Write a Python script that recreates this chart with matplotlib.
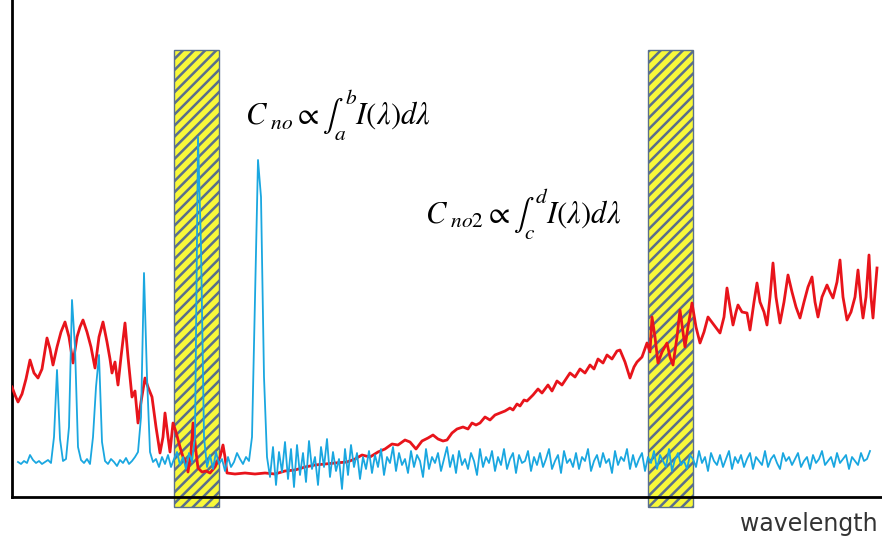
import numpy as np
import matplotlib
matplotlib.use("Agg")
from matplotlib import pyplot as plt
from matplotlib.patches import Rectangle

# Red spectrum (traced points, x = wavelength position, y = intensity)
red_x = [12, 15, 18, 22, 26, 30, 34, 38, 42, 47, 50, 53, 57, 61, 65, 69, 73, 77, 80, 83,
         87, 91, 95, 99, 103, 107, 110, 112, 115, 118, 121, 125, 128, 132, 135, 138, 141, 145, 148, 152,
         156, 160, 163, 165, 168, 170, 173, 176, 180, 183, 186, 188, 191, 193, 196, 198, 202, 206, 210, 215,
         220, 223, 225, 227, 235, 245, 255, 265, 275, 285, 295, 305, 315, 325, 335, 347, 355, 362, 370, 378,
         385, 392, 398, 405, 410, 416, 422, 428, 433, 438, 443, 447, 452, 457, 463, 468, 472, 476, 480, 485,
         490, 495, 500, 505, 510, 513, 517, 520, 524, 527, 533, 538, 542, 548, 552, 557, 562, 566, 570, 575,
         580, 585, 590, 594, 598, 603, 607, 612, 617, 620, 625, 630, 634, 637, 642, 647, 650, 652, 655, 658,
         662, 667, 670, 673, 677, 680, 683, 685, 688, 692, 696, 700, 704, 708, 714, 720, 724, 727, 730, 733,
         736, 738, 742, 747, 750, 754, 757, 760, 764, 767, 770, 773, 776, 780, 784, 788, 792, 796, 800, 804,
         808, 812, 815, 818, 822, 827, 830, 833, 837, 840, 843, 847, 851, 855, 858, 861, 863, 866, 869, 871,
         873, 875, 877]
red_y = [110, 102, 95, 103, 118, 137, 124, 119, 128, 159, 148, 132, 150, 165, 175, 160, 134, 160, 170, 177,
         165, 150, 129, 160, 175, 155, 138, 124, 135, 112, 140, 174, 140, 100, 106, 74, 95, 119, 110, 100,
         70, 44, 60, 84, 60, 45, 74, 65, 50, 40, 35, 25, 45, 74, 45, 29, 25, 26, 24, 30,
         40, 52, 40, 24, 23, 24, 23, 24, 23, 26, 27, 30, 32, 33, 34, 35, 38, 42, 40, 45,
         48, 53, 52, 57, 55, 48, 56, 59, 62, 58, 56, 57, 64, 68, 70, 68, 74, 72, 74, 80,
         77, 82, 84, 86, 89, 87, 93, 91, 97, 96, 102, 108, 104, 112, 106, 116, 112, 118, 124, 120,
         128, 124, 132, 128, 138, 134, 142, 138, 146, 147, 135, 119, 130, 135, 140, 154, 145, 180, 160, 134,
         145, 154, 140, 132, 160, 187, 165, 150, 170, 194, 170, 154, 165, 180, 172, 164, 180, 209, 190, 172,
         185, 192, 185, 184, 167, 195, 214, 195, 185, 172, 200, 234, 200, 174, 195, 222, 205, 190, 179, 195,
         210, 220, 195, 180, 200, 212, 205, 199, 215, 237, 200, 177, 185, 200, 227, 195, 179, 200, 242, 200,
         179, 205, 229]

# Blue spectrum, sampled every 3 units from 18 to 870
blue_y = [35, 33, 36, 34, 42, 37, 34, 36, 33, 35,
          37, 34, 60, 127, 58, 36, 38, 70, 197, 150,
          50, 37, 34, 38, 33, 60, 110, 142, 55, 36,
          33, 38, 35, 31, 37, 34, 39, 33, 36, 40,
          45, 80, 224, 120, 45, 35, 38, 30, 40, 33,
          42, 30, 38, 45, 32, 40, 28, 44, 35, 60,
          360, 250, 60, 30, 42, 28, 45, 33, 38, 26,
          40, 30, 35, 44, 38, 33, 40, 36, 60, 200,
          337, 300, 120, 40, 20, 50, 12, 45, 25, 55,
          18, 48, 10, 52, 22, 44, 15, 56, 28, 40,
          12, 50, 30, 58, 20, 45, 26, 38, 8, 48,
          22, 52, 30, 44, 18, 40, 28, 46, 24, 42,
          30, 48, 22, 40, 34, 50, 26, 44, 32, 38,
          24, 46, 30, 42, 36, 20, 48, 28, 40, 34,
          44, 26, 38, 50, 30, 42, 24, 46, 32, 38,
          28, 44, 36, 22, 48, 30, 40, 34, 46, 26,
          40, 32, 48, 28, 38, 44, 24, 42, 34, 36,
          46, 26, 40, 32, 44, 30, 38, 48, 28, 36,
          42, 24, 46, 34, 38, 30, 44, 28, 40, 36,
          48, 26, 36, 42, 30, 44, 34, 38, 24, 46,
          32, 40, 36, 48, 28, 42, 30, 38, 44, 26,
          40, 34, 46, 28, 42, 36, 30, 48, 26, 38,
          44, 32, 36, 28, 42, 38, 30, 46, 34, 40,
          26, 44, 36, 32, 42, 30, 38, 46, 28, 40,
          34, 42, 30, 38, 44, 28, 40, 36, 32, 46,
          30, 38, 42, 34, 28, 44, 36, 40, 32, 38,
          44, 30, 36, 40, 28, 42, 34, 38, 46, 32,
          36, 40, 30, 44, 34, 38, 42, 28, 40, 36,
          32, 44, 36, 38, 46]
blue_x = np.arange(18, 18 + 3 * len(blue_y), 3)

# integration windows [a, b] and [c, d]
windows = [(174, 219), (648, 693)]

plt.rcParams['hatch.linewidth'] = 1.8
plt.rcParams['hatch.color'] = '#5a6f8c'
plt.rcParams['mathtext.fontset'] = 'stix'

fig = plt.figure(figsize=(8.82, 5.42), dpi=100)
ax = fig.add_axes([12 / 882, 45 / 542, 870 / 882, 497 / 542])
ax.set_xlim(12, 882)
ax.set_ylim(0, 497)

for a, b in windows:
    r = Rectangle((a, -10), b - a, 457, facecolor='#f8f83a', edgecolor='#5a6f8c',
                  hatch='///', lw=1.0, zorder=1, clip_on=False)
    ax.add_patch(r)

ax.plot(red_x, red_y, color='#e8141b', lw=2.0, zorder=3)
ax.plot(blue_x, blue_y, color='#1aa7e0', lw=1.3, zorder=4)

ax.text(245, 382, r'$C_{\ no} \propto \int_{a}^{b} I(\lambda)d\lambda$', fontsize=22, ha='left', va='center')
ax.text(425, 283, r'$C_{\ no2} \propto \int_{c}^{d} I(\lambda)d\lambda$', fontsize=22, ha='left', va='center')
fig.text(878 / 882, 18 / 542, 'wavelength', fontsize=17, ha='right', va='center', color='#333333')

ax.set_xticks([])
ax.set_yticks([])
ax.spines['top'].set_visible(False)
ax.spines['right'].set_visible(False)
ax.spines['left'].set_linewidth(2)
ax.spines['bottom'].set_linewidth(2)

fig.savefig('out.png', dpi=100)
